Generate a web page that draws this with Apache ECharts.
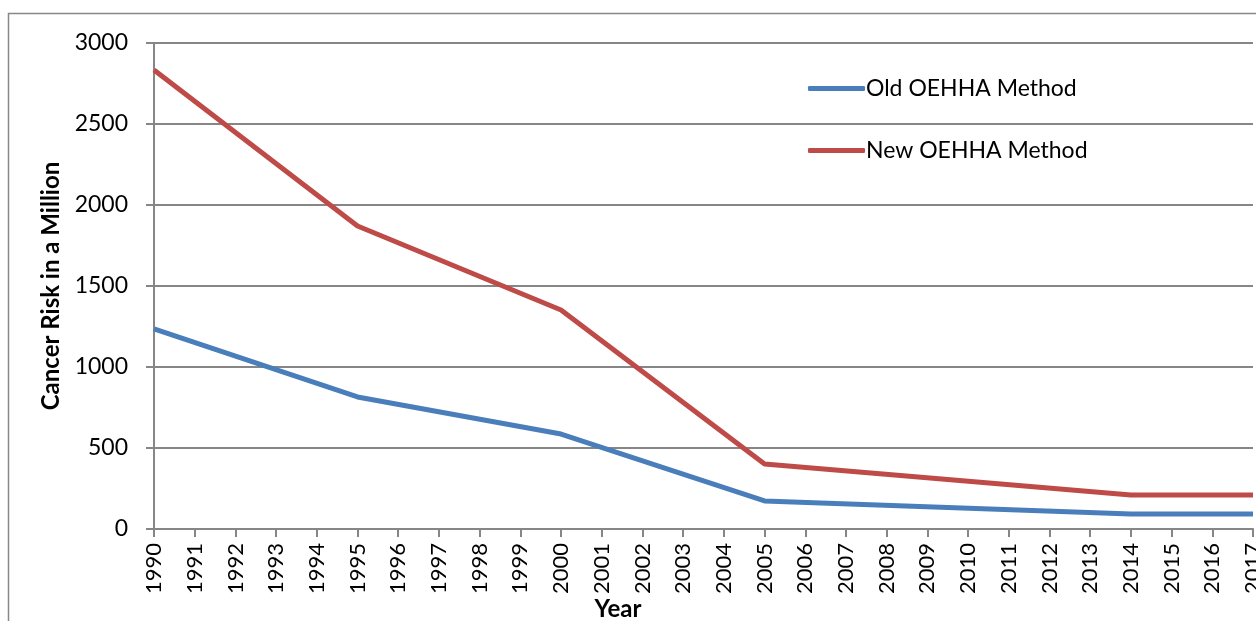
<!DOCTYPE html>
<html><head><meta charset="utf-8">
<script src="https://cdn.jsdelivr.net/npm/echarts@6/dist/echarts.min.js"></script>
<style>html,body{margin:0;padding:0;background:#fff}#c{width:1256px;height:621px}</style>
</head><body><div id="c"></div>
<script>
const years = ['1990','1991','1992','1993','1994','1995','1996','1997','1998','1999','2000','2001','2002','2003','2004','2005','2006','2007','2008','2009','2010','2011','2012','2013','2014','2015','2016','2017'];
const oldMethod = {'1990':1235,'1995':815,'2000':586,'2005':173,'2014':93,'2017':93};
const newMethod = {'1990':2833,'1995':1870,'2000':1352,'2005':401,'2014':210,'2017':210};
const yTicks = [0,500,1000,1500,2000,2500,3000];
const xTitle = 'Year';
const yTitle = 'Cancer Risk in a Million';

const toSeries = m => years.map(y => (y in m ? m[y] : null));
const font = 'Lato, "Open Sans", sans-serif';
const chart = echarts.init(document.getElementById('c'));
chart.setOption({
  animation:false,
  graphic:[
    {type:'rect',shape:{x:8.5,y:13.5,width:1300,height:700},style:{fill:'none',stroke:'#888',lineWidth:1.5},silent:true},
    {type:'text',x:618,y:609,z:10,style:{text:xTitle,fontFamily:font,fontSize:24,fontWeight:'bold',fill:'#000',align:'center',verticalAlign:'middle'}}
  ],
  grid:{left:154,right:3,top:43,bottom:92,outerBoundsMode:'none',containLabel:false},
  legend:{orient:'vertical',left:803,top:72,itemGap:39,itemWidth:57,itemHeight:5,icon:'roundRect',
    textStyle:{fontFamily:font,fontSize:23,color:'#000',padding:[0,0,0,-4]},
    data:['Old OEHHA Method','New OEHHA Method']},
  xAxis:{type:'category',data:years,boundaryGap:false,
    axisLine:{lineStyle:{color:'#868686',width:2}},
    axisTick:{show:true,interval:0,length:8,lineStyle:{color:'#868686',width:2}},
    axisLabel:{interval:0,rotate:90,fontFamily:font,fontSize:22,color:'#000',margin:14},
    splitLine:{show:false}},
  yAxis:{type:'value',min:0,max:3000,interval:500,
    name:yTitle,nameLocation:'middle',nameGap:91,nameRotate:90,
    nameTextStyle:{fontFamily:font,fontSize:24,fontWeight:'bold',color:'#000'},
    axisLine:{show:true,lineStyle:{color:'#868686',width:2}},
    axisTick:{show:true,length:8,lineStyle:{color:'#868686',width:2}},
    axisLabel:{fontFamily:font,fontSize:23,color:'#000',margin:26,formatter:v=>yTicks.includes(v)?String(v):''},
    splitLine:{lineStyle:{color:'#868686',width:2}}},
  series:[
    {name:'Old OEHHA Method',type:'line',data:toSeries(oldMethod),connectNulls:true,symbol:'none',
      lineStyle:{color:'#4a7ebb',width:5},itemStyle:{color:'#4a7ebb'}},
    {name:'New OEHHA Method',type:'line',data:toSeries(newMethod),connectNulls:true,symbol:'none',
      lineStyle:{color:'#be4b48',width:5},itemStyle:{color:'#be4b48'}}
  ]
});
</script></body></html>
